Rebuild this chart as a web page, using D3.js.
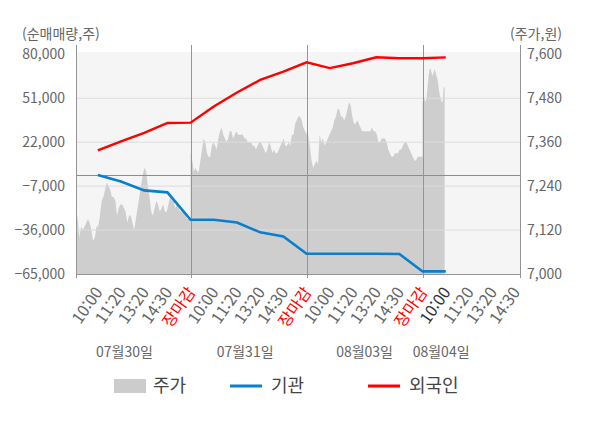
<!DOCTYPE html>
<html lang="ko">
<head>
<meta charset="utf-8">
<script src="https://cdn.jsdelivr.net/npm/d3@7"></script>
<style>
  body { margin: 0; background: #fff; }
  svg { display: block; font-family: "Noto Sans CJK KR", "Noto Sans", sans-serif; }
</style>
</head>
<body>
<div id="chart"></div>
<script>
// x axis: trading days and the five label slots of each day
const dates = ["07월30일", "07월31일", "08월03일", "08월04일"];
const datePos = [0.43, 1.47, 2.5, 3.16]; // where the date caption sits, in days
const slotLabels = ["10:00", "11:20", "13:20", "14:30", "장마감"];
const lastDayProgress = 0.19; // 08/04 is still trading

const leftTicks = [80000, 51000, 22000, -7000, -36000, -65000];
const rightTicks = [7600, 7480, 7360, 7240, 7120, 7000];

// 주가 (원), sampled evenly through each day
const priceDay1 = [7180, 7150, 7100, 7130, 7120, 7130, 7140, 7150, 7140, 7120, 7090, 7100, 7130, 7130, 7160, 7200, 7210, 7230, 7250, 7240, 7230, 7210, 7210, 7200, 7160, 7180, 7190, 7190, 7180, 7170, 7140, 7160, 7160, 7140, 7120, 7150, 7180, 7210, 7240, 7270, 7290, 7280, 7240, 7210, 7170, 7160, 7180, 7200, 7190, 7170, 7180, 7190, 7170, 7170, 7190, 7210, 7200, 7200, 7180, 7190, 7180, 7170, 7180, 7170, 7160, 7150, 7150, 7150];
const priceDay2 = [7330, 7310, 7280, 7290, 7280, 7280, 7310, 7340, 7370, 7360, 7330, 7320, 7320, 7350, 7360, 7350, 7340, 7370, 7390, 7400, 7380, 7370, 7360, 7370, 7390, 7390, 7370, 7380, 7390, 7380, 7380, 7380, 7380, 7370, 7370, 7360, 7360, 7360, 7350, 7350, 7340, 7350, 7360, 7360, 7350, 7340, 7330, 7340, 7360, 7350, 7330, 7340, 7330, 7330, 7340, 7350, 7360, 7370, 7350, 7350, 7360, 7350, 7380, 7380, 7410, 7420, 7430, 7430, 7420, 7400, 7390, 7380];
const priceDay3 = [7390, 7380, 7350, 7310, 7290, 7300, 7310, 7300, 7380, 7360, 7370, 7350, 7360, 7370, 7380, 7390, 7400, 7420, 7430, 7450, 7450, 7430, 7430, 7420, 7430, 7450, 7470, 7460, 7430, 7410, 7410, 7420, 7410, 7400, 7390, 7390, 7390, 7390, 7390, 7390, 7400, 7390, 7390, 7380, 7360, 7360, 7370, 7370, 7370, 7360, 7340, 7330, 7320, 7320, 7330, 7330, 7330, 7340, 7340, 7350, 7360, 7360, 7350, 7340, 7330, 7320, 7310, 7310, 7320, 7320, 7320, 7320];
const priceDay4 = [7470, 7470, 7480, 7470, 7480, 7510, 7540, 7560, 7560, 7550, 7540, 7550, 7560, 7550, 7540, 7530, 7510, 7490, 7480, 7470, 7470, 7510, 7510];

// 순매매량 누적 (주), one value per label slot
const institution = [400, -4000, -9800, -11100, -29200, -29200, -31000, -37500, -40200, -51600, -51600, -51600, -51600, -51800, -63300, -63300];
const foreign = [16600, 22500, 28100, 34700, 34900, 45600, 54800, 63100, 68500, 74700, 70900, 74100, 78000, 77400, 77400, 78000];

const width = 600;
const height = 428;
const plot = { left: 76, right: 520, top: 54.3, bottom: 274 };

const svg = d3
  .select("#chart")
  .append("svg")
  .attr("width", width)
  .attr("height", height);

const x = d3.scaleLinear().domain([0.012, 3.84]).range([plot.left, plot.right]);
const yLeft = d3.scaleLinear().domain([-65000, 80000]).range([plot.bottom, plot.top]);
const yRight = d3.scaleLinear().domain([7000, 7600]).range([plot.bottom, plot.top]);

// price points spread through each day
const priceDays = [priceDay1, priceDay2, priceDay3, priceDay4];
const prices = [];
priceDays.forEach((arr, d) => {
  const start = d === 0 ? 0.012 : d;
  const end = d === priceDays.length - 1 ? d + lastDayProgress : d + 1;
  arr.forEach((v, i) => {
    prices.push({ t: start + ((end - start) * i) / (arr.length - 1), v: v });
  });
});

const slotT = (i) => Math.floor(i / 5) + ((i % 5) + 1) / 5;

// background
svg
  .append("rect")
  .attr("x", plot.left)
  .attr("y", plot.top - 2.5)
  .attr("width", plot.right - plot.left)
  .attr("height", plot.bottom - plot.top + 2.5)
  .attr("fill", "#f5f5f5");

svg
  .append("path")
  .datum(prices)
  .attr("fill", "#cecece")
  .attr(
    "d",
    d3
      .area()
      .x((d) => x(d.t))
      .y0(yRight(7000))
      .y1((d) => yRight(d.v))
  );

// grid
svg
  .append("g")
  .selectAll("line")
  .data(leftTicks.slice(1, -1))
  .join("line")
  .attr("x1", plot.left)
  .attr("x2", plot.right)
  .attr("y1", (d) => yLeft(d))
  .attr("y2", (d) => yLeft(d))
  .attr("stroke", "#dcdcdc")
  .attr("stroke-width", 1);

svg
  .append("line")
  .attr("x1", plot.left)
  .attr("x2", plot.right)
  .attr("y1", yLeft(0))
  .attr("y2", yLeft(0))
  .attr("stroke", "#8c8c8c");

// vertical separators, axis edges and their ticks
const vLines = [plot.left, x(1), x(2), x(3), plot.right];
svg
  .append("g")
  .selectAll("line")
  .data(vLines)
  .join("line")
  .attr("x1", (d) => Math.round(d) + 0.5)
  .attr("x2", (d) => Math.round(d) + 0.5)
  .attr("y1", 45)
  .attr("y2", plot.bottom + 4)
  .attr("stroke", "#959595");

svg
  .append("line")
  .attr("x1", plot.left)
  .attr("x2", plot.right)
  .attr("y1", plot.bottom + 0.5)
  .attr("y2", plot.bottom + 0.5)
  .attr("stroke", "#959595");

// flows
const flowLine = d3
  .line()
  .x((d, i) => x(slotT(i)))
  .y((d) => yLeft(d));

svg
  .append("path")
  .datum(institution)
  .attr("fill", "none")
  .attr("stroke", "#0a7fcb")
  .attr("stroke-width", 2.6)
  .attr("d", flowLine);

svg
  .append("path")
  .datum(foreign)
  .attr("fill", "none")
  .attr("stroke", "#ff0000")
  .attr("stroke-width", 2.4)
  .attr("d", flowLine);

// y axes
const yLeftAxis = (g) => {
  g.attr("transform", `translate(${plot.left}, 0)`)
    .call(d3.axisLeft(yLeft).tickValues(leftTicks).tickSize(0).tickPadding(11).tickFormat(d3.format(",")));
  g.select(".domain").remove();
  g.selectAll("text").attr("fill", "#666").attr("font-size", 14);
};
const yRightAxis = (g) => {
  g.attr("transform", `translate(${plot.right}, 0)`)
    .call(d3.axisRight(yRight).tickValues(rightTicks).tickSize(0).tickPadding(7).tickFormat(d3.format(",")));
  g.select(".domain").remove();
  g.selectAll("text").attr("fill", "#666").attr("font-size", 14);
};
svg.append("g").call(yLeftAxis).attr("font-family", null);
svg.append("g").call(yRightAxis).attr("font-family", null);

svg
  .append("text")
  .attr("x", 22)
  .attr("y", 34)
  .attr("dy", "0.35em")
  .attr("fill", "#666")
  .attr("font-size", 14)
  .text("(순매매량,주)");

svg
  .append("text")
  .attr("x", 562)
  .attr("y", 34)
  .attr("dy", "0.35em")
  .attr("text-anchor", "end")
  .attr("fill", "#666")
  .attr("font-size", 14)
  .text("(주가,원)");

// x labels
const slots = [];
dates.forEach((dt, d) => {
  slotLabels.forEach((s, k) => {
    if (d === dates.length - 1 && k === slotLabels.length - 1) return;
    slots.push({ t: d + (k + 1) / 5, label: s, last: d === dates.length - 1 && k === 0 });
  });
});

svg
  .append("g")
  .attr("transform", `translate(0, ${plot.bottom})`)
  .selectAll("text")
  .data(slots)
  .join("text")
  .attr("transform", (d) => `translate(${x(d.t) + 1}, 15) rotate(-55)`)
  .attr("text-anchor", "end")
  .attr("dy", "0.35em")
  .attr("font-size", 16)
  .attr("fill", (d) => (d.label === "장마감" ? "#ff0000" : d.last ? "#333" : "#666"))
  .text((d) => d.label);

svg
  .append("g")
  .selectAll("text")
  .data(dates)
  .join("text")
  .attr("x", (d, i) => x(datePos[i]))
  .attr("y", 352)
  .attr("dy", "0.35em")
  .attr("text-anchor", "middle")
  .attr("fill", "#666")
  .attr("font-size", 14)
  .text((d) => d);

// legend
const legend = svg.append("g").attr("transform", "translate(0, 386)");
legend
  .append("rect")
  .attr("x", 114)
  .attr("y", -7)
  .attr("width", 32)
  .attr("height", 14)
  .attr("fill", "#cccccc");
legend
  .append("line")
  .attr("x1", 230)
  .attr("x2", 262)
  .attr("stroke", "#0a7fcb")
  .attr("stroke-width", 3);
legend
  .append("line")
  .attr("x1", 368)
  .attr("x2", 400)
  .attr("stroke", "#ff0000")
  .attr("stroke-width", 3);
legend
  .selectAll("text")
  .data([
    { x: 153, label: "주가" },
    { x: 271, label: "기관" },
    { x: 409, label: "외국인" },
  ])
  .join("text")
  .attr("x", (d) => d.x)
  .attr("dy", "0.35em")
  .attr("font-size", 18)
  .attr("fill", "#444")
  .text((d) => d.label);
</script>
</body>
</html>
